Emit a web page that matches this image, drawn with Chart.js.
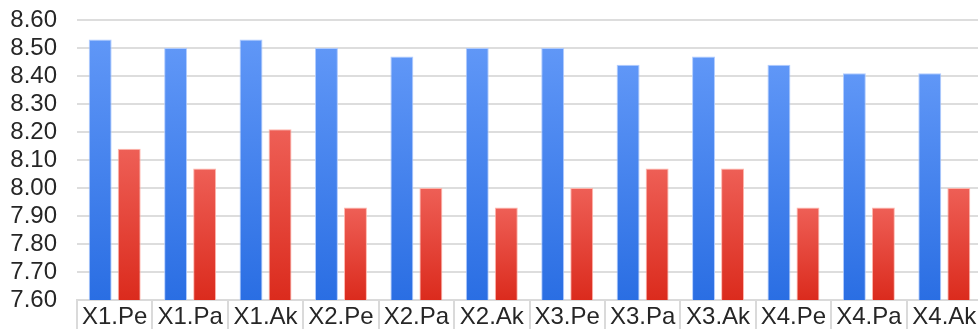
<!DOCTYPE html>
<html>
<head>
<meta charset="utf-8">
<script src="https://cdn.jsdelivr.net/npm/chart.js@4.4.1/dist/chart.umd.min.js"></script>
<style>
  html, body { margin: 0; padding: 0; background: #fff; overflow: hidden; }
  #wrap { width: 982px; height: 329px; }
</style>
</head>
<body>
<div id="wrap"><canvas id="chart"></canvas></div>
<script>
// categories and values
const categories = ['X1.Pe', 'X1.Pa', 'X1.Ak', 'X2.Pe', 'X2.Pa', 'X2.Ak',
                    'X3.Pe', 'X3.Pa', 'X3.Ak', 'X4.Pe', 'X4.Pa', 'X4.Ak'];
const blueValues = [8.53, 8.50, 8.53, 8.50, 8.47, 8.50, 8.50, 8.44, 8.47, 8.44, 8.41, 8.41];
const redValues  = [8.14, 8.07, 8.21, 7.93, 8.00, 7.93, 8.00, 8.07, 8.07, 7.93, 7.93, 8.00];
const yMin = 7.6;
const yMax = 8.6;
const yStep = 0.1;

// vertical gradient per bar, from the bar's own top to the axis
const barGradient = (topColor, bottomColor) => ctx => {
    const chart = ctx.chart;
    const area = chart.chartArea;
    if (!area || ctx.raw === undefined) return bottomColor;
    const top = chart.scales.y.getPixelForValue(ctx.raw);
    const g = chart.ctx.createLinearGradient(0, top, 0, area.bottom);
    g.addColorStop(0, topColor);
    g.addColorStop(1, bottomColor);
    return g;
};

const font = { family: "'Liberation Sans', Arial, sans-serif", size: 24 };

new Chart(document.getElementById('chart'), {
    type: 'bar',
    data: {
        labels: categories,
        datasets: [{
            data: blueValues,
            backgroundColor: barGradient('#6097f7', '#2a6ee3'),
            borderColor: 'rgba(170, 200, 255, 0.9)',
            borderWidth: 1,
            categoryPercentage: 0.77,
            barPercentage: 0.79
        }, {
            data: redValues,
            backgroundColor: barGradient('#ee5f56', '#db2b1d'),
            borderColor: 'rgba(255, 175, 165, 0.9)',
            borderWidth: 1,
            categoryPercentage: 0.77,
            barPercentage: 0.79
        }]
    },
    options: {
        responsive: true,
        maintainAspectRatio: false,
        animation: false,
        layout: { padding: { top: 20, left: 10, right: 0, bottom: 0 } },
        plugins: {
            legend: { display: false },
            tooltip: { enabled: false }
        },
        scales: {
            x: {
                offset: true,
                grid: {
                    offset: true,
                    drawOnChartArea: false,
                    drawTicks: true,
                    tickLength: 29,
                    color: '#dadada',
                    lineWidth: 2
                },
                border: { color: '#dadada', width: 2 },
                ticks: {
                    padding: -26,
                    color: '#262626',
                    font: font,
                    maxRotation: 0,
                    autoSkip: false
                },
                afterFit: s => {
                    s.height = 29;
                    s.paddingLeft = 0;
                    s.paddingRight = 0;
                }
            },
            y: {
                min: yMin,
                max: yMax,
                grid: { color: '#dddddd', lineWidth: 2, drawTicks: false },
                border: { display: false },
                ticks: {
                    stepSize: yStep,
                    autoSkip: false,
                    padding: 20,
                    color: '#262626',
                    font: font,
                    callback: v => Number(v).toFixed(2)
                },
                afterFit: s => {
                    s.width = 67;
                    s.paddingTop = 0;
                    s.paddingBottom = 0;
                }
            }
        }
    }
});
</script>
</body>
</html>
